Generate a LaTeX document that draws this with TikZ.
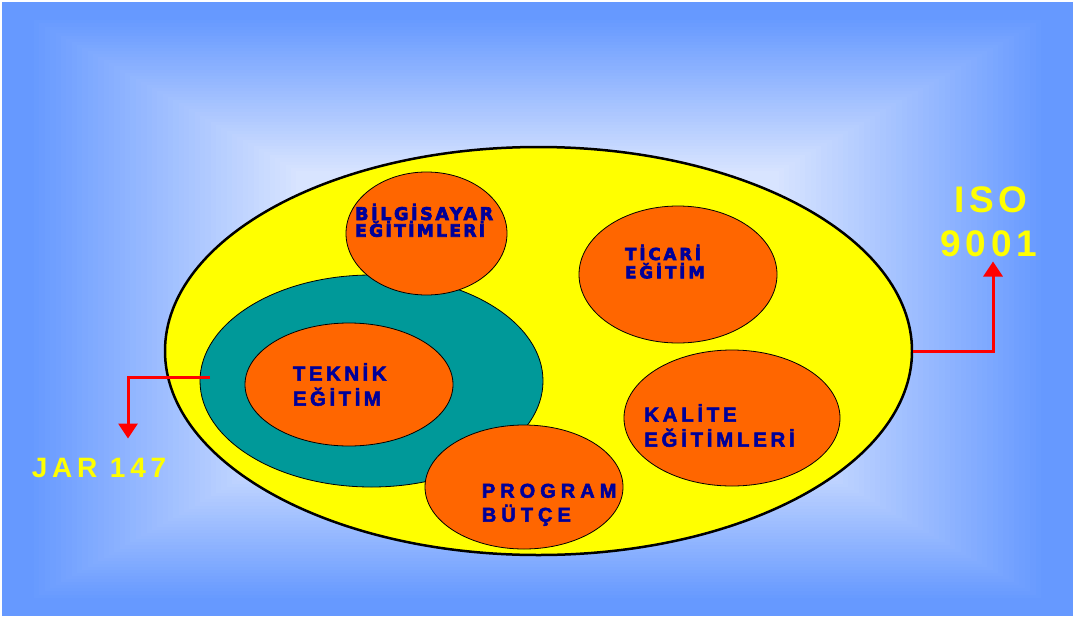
\documentclass[tikz,border=0pt]{standalone}
\usepackage{fontspec}
\usetikzlibrary{shapes.geometric,arrows.meta}
\newfontfamily\arialb{Liberation Sans}[BoldFont=*,UprightFont=* Bold]
\newfontfamily\heavyf{DejaVu Sans}[BoldFont=*,UprightFont=* Bold]
\definecolor{bgblue}{HTML}{6699FF}
\definecolor{bglight}{HTML}{D8E4FF}
\definecolor{yel}{HTML}{FFFF00}
\definecolor{tealc}{HTML}{009999}
\definecolor{orng}{HTML}{FF6600}
\definecolor{navy}{HTML}{000099}
\definecolor{redc}{HTML}{FF0000}
\tikzset{
  blob/.style={shape=ellipse, inner sep=0pt, draw=black, line width=0.8pt, fill=orng},
  lbl/.style={inner sep=0pt, anchor=base west, text=navy},
  ylbl/.style={inner sep=0pt, anchor=base, text=yel},
  redarrow/.style={draw=redc, line width=3pt, -{Triangle[width=19pt,length=15pt]}}
}
\begin{document}
\begin{tikzpicture}[x=1pt,y=-1pt]
\path[use as bounding box, fill=white] (0,0) rectangle (1073,616);
% rectangular background gradient
\foreach \k in {0,...,60}{
  \pgfmathsetmacro{\d}{1-\k*0.01}
  \pgfmathsetmacro{\t}{max(0,min(100,(0.95-\d)/0.5*100))}
  \colorlet{bgc}{bglight!\t!bgblue}
  \fill[bgc] ({537.5-535.5*\d},{309-307*\d}) rectangle ({537.5+535.5*\d},{309+307*\d});
}
% main shapes
\node[shape=ellipse, inner sep=0pt, draw=black, line width=2.5pt, fill=yel,
      minimum width=747pt, minimum height=408pt] (yell) at (538.5,351) {};
\node[shape=ellipse, inner sep=0pt, draw=black, line width=0.8pt, fill=tealc,
      minimum width=343pt, minimum height=212pt] (teal) at (371.5,381) {};
\node[blob, minimum width=208pt, minimum height=123pt] (tek) at (349,384.5) {};
\node[blob, minimum width=161pt, minimum height=123pt] (bil) at (426.5,233.5) {};
\node[blob, minimum width=198pt, minimum height=137pt] (tic) at (678,274.5) {};
\node[blob, minimum width=216pt, minimum height=136pt] (kal) at (732,418) {};
\node[blob, minimum width=198pt, minimum height=124pt] (prg) at (524,487) {};
% texts
\node[lbl, font={\heavyf\fontsize{17.5}{17.5}\selectfont\addfontfeature{LetterSpace=15,FakeBold=4}}] (bil1) at (355,220) {BİLGİSAYAR};
\node[lbl, font={\heavyf\fontsize{17}{17}\selectfont\addfontfeature{LetterSpace=14,FakeBold=4}}] (bil2) at (355,236.7) {EĞİTİMLERİ};
\node[lbl, font={\heavyf\fontsize{16.5}{16.5}\selectfont\addfontfeature{LetterSpace=18,FakeBold=4}}] (tic1) at (625,260) {TİCARİ};
\node[lbl, font={\heavyf\fontsize{16.5}{16.5}\selectfont\addfontfeature{LetterSpace=18,FakeBold=4}}] (tic2) at (625,278.3) {EĞİTİM};
\node[lbl, font={\arialb\fontsize{20.5}{20.5}\selectfont\addfontfeature{LetterSpace=17,FakeBold=2.5}}] (tek1) at (292.7,380.7) {TEKNİK};
\node[lbl, font={\arialb\fontsize{20.5}{20.5}\selectfont\addfontfeature{LetterSpace=17,FakeBold=2.5}}] (tek2) at (292.7,405.7) {EĞİTİM};
\node[lbl, font={\arialb\fontsize{20}{20}\selectfont\addfontfeature{LetterSpace=25,FakeBold=2.5}}] (prg1) at (481.7,497.7) {PROGRAM};
\node[lbl, font={\arialb\fontsize{20}{20}\selectfont\addfontfeature{LetterSpace=25,FakeBold=2.5}}] (prg2) at (481.7,521.7) {BÜTÇE};
\node[lbl, font={\arialb\fontsize{20.5}{20.5}\selectfont\addfontfeature{LetterSpace=18,FakeBold=2.5}}] (kal1) at (644,421.7) {KALİTE};
\node[lbl, font={\arialb\fontsize{20.5}{20.5}\selectfont\addfontfeature{LetterSpace=18,FakeBold=2.5}}] (kal2) at (644,446.7) {EĞİTİMLERİ};
% outer labels
\node[ylbl, font={\arialb\fontsize{37}{37}\selectfont\addfontfeature{LetterSpace=12}}] (iso1) at (991,212.7) {ISO};
\node[ylbl, font={\arialb\fontsize{37}{37}\selectfont\addfontfeature{LetterSpace=13}}] (iso2) at (989,256) {9001};
\node[inner sep=0pt, anchor=base west, text=yel, font={\arialb\fontsize{28}{28}\selectfont\addfontfeature{LetterSpace=17}}] (jar) at (31.7,477.3) {JAR 147};
% connectors
\coordinate (jstart) at (210,377);
\coordinate (jend) at (128,438.5);
\coordinate (isoend) at (993,261.5);
\draw[redarrow] (jstart) -| (jend);
\draw[redarrow] (yell.east) -| (isoend);
\end{tikzpicture}
\end{document}
